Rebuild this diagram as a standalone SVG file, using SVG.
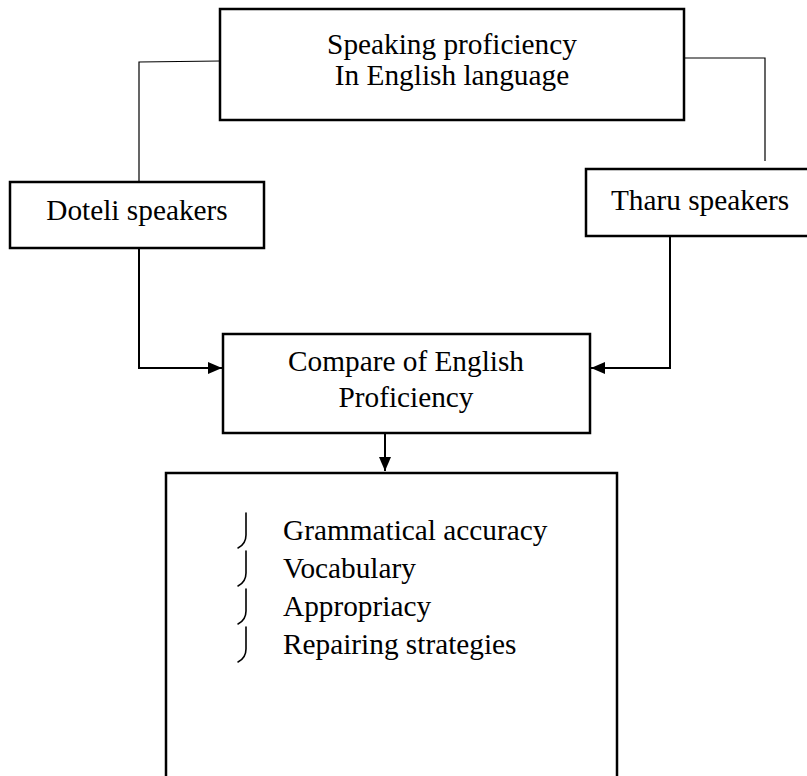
<svg xmlns="http://www.w3.org/2000/svg" width="807" height="776" viewBox="0 0 807 776">
<defs>
<style>
.box{fill:#fff;stroke:#000;stroke-width:2.5}
.t{font-family:"Liberation Serif","Times New Roman",serif;font-size:29.3px;fill:#000}
.thin{fill:none;stroke:#000;stroke-width:1.2}
.arr{fill:none;stroke:#000;stroke-width:2}
.bul{fill:none;stroke:#000;stroke-width:1.6;stroke-linecap:round}
</style>
<marker id="ah" markerWidth="14" markerHeight="12" refX="14" refY="6" orient="auto" markerUnits="userSpaceOnUse">
<path d="M0,0 L14,6 L0,12 Z" fill="#000"/>
</marker>
</defs>
<rect width="807" height="776" fill="#fff"/>
<g id="connectors">
<path class="thin" d="M220,61 L139,62 L139,182"/>
<path class="thin" d="M684,58 L765,58 L765,161"/>
<path class="arr" d="M139,248 L139,368 L222,368" marker-end="url(#ah)"/>
<path class="arr" d="M670,236 L670,368 L591,368" marker-end="url(#ah)"/>
<path class="arr" d="M385,433 L385,471" marker-end="url(#ah)"/>
</g>
<g id="top">
<rect class="box" x="220" y="9" width="464" height="111"/>
<text class="t" x="452" y="54" text-anchor="middle">Speaking proficiency</text>
<text class="t" x="452" y="85" text-anchor="middle">In English language</text>
</g>
<g id="doteli">
<rect class="box" x="10" y="182" width="254" height="66"/>
<text class="t" x="137" y="220" text-anchor="middle">Doteli speakers</text>
</g>
<g id="tharu">
<rect class="box" x="586" y="169" width="226" height="67"/>
<text class="t" x="700" y="210" text-anchor="middle">Tharu speakers</text>
</g>
<g id="compare">
<rect class="box" x="223" y="334" width="367" height="99"/>
<text class="t" x="406" y="371" text-anchor="middle">Compare of English</text>
<text class="t" x="406" y="407" text-anchor="middle">Proficiency</text>
</g>
<g id="aspects">
<rect class="box" x="166" y="473" width="451" height="320"/>
<path class="bul" d="M246,513 L246,535 Q246,544 238,548"/>
<path class="bul" d="M246,551 L246,573 Q246,582 238,586"/>
<path class="bul" d="M246,589 L246,611 Q246,620 238,624"/>
<path class="bul" d="M246,627 L246,649 Q246,658 238,662"/>
<text class="t" x="283" y="540">Grammatical accuracy</text>
<text class="t" x="283" y="578">Vocabulary</text>
<text class="t" x="283" y="616">Appropriacy</text>
<text class="t" x="283" y="654">Repairing strategies</text>
</g>
</svg>
